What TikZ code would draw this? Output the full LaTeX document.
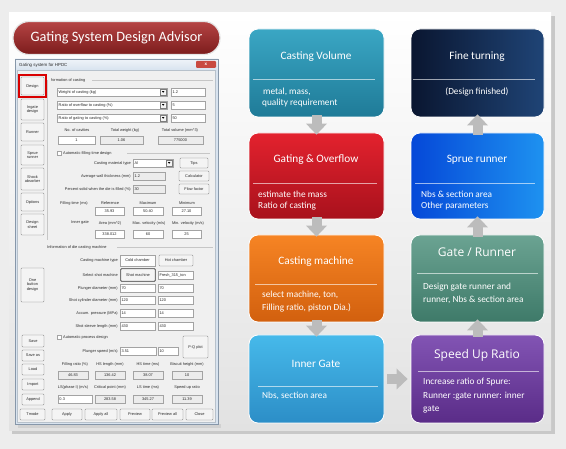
\documentclass[tikz,border=0pt]{standalone}
\usepackage{fontspec}
\setmainfont{Liberation Sans}
\newfontfamily\calf{Carlito}
\newfontfamily\segf{Open Sans}
\usetikzlibrary{arrows.meta}
\definecolor{outerbg}{HTML}{EDEDED}
\definecolor{panelbot}{HTML}{E2E2E2}
\definecolor{panelshadow}{HTML}{C8C8C8}
\definecolor{winframe}{HTML}{D8E3EF}
\definecolor{winborder}{HTML}{8797A9}
\definecolor{clientbg}{HTML}{F0F0F0}
\definecolor{btnfill}{HTML}{F4F4F4}
\definecolor{btnborder}{HTML}{7C7C7C}
\definecolor{tbborder}{HTML}{A3A3A3}
\definecolor{rofill}{HTML}{ECECEC}
\definecolor{etchc}{HTML}{C6C6C6}
\definecolor{dlgtext}{HTML}{2A2A2A}
\definecolor{closered}{HTML}{C94A40}
\definecolor{arrowgray}{HTML}{BCBCBC}
\definecolor{pilltop}{HTML}{B54444}
\definecolor{pillbot}{HTML}{7C1C1C}
\definecolor{cvtop}{HTML}{3AA6C4}\definecolor{cvbot}{HTML}{1F7B98}
\definecolor{ftleft}{HTML}{0A1630}\definecolor{ftright}{HTML}{1F4476}
\definecolor{gotop}{HTML}{E3222E}\definecolor{gobot}{HTML}{A8111C}
\definecolor{srleft}{HTML}{0548D8}\definecolor{srright}{HTML}{1E92F0}
\definecolor{cmtop}{HTML}{F68424}\definecolor{cmbot}{HTML}{D2600E}
\definecolor{grtop}{HTML}{6BA392}\definecolor{grbot}{HTML}{3E7A69}
\definecolor{igtop}{HTML}{46B9EA}\definecolor{igbot}{HTML}{2C8EC7}
\definecolor{sutop}{HTML}{8254B4}\definecolor{subot}{HTML}{5A2C88}
\newcommand\dlgf{\fontsize{3.9}{4.5}\selectfont}
\tikzset{
  dlg/.style={font=\dlgf, text=dlgtext, inner sep=0pt},
  btnbox/.style={fill=btnfill, draw=btnborder, line width=0.35pt, rounded corners=0.8pt},
  tbbox/.style={fill=white, draw=tbborder, line width=0.35pt},
  robox/.style={fill=rofill, draw=tbborder, line width=0.35pt},
  etch/.style={draw=etchc, line width=0.4pt},
  flow/.style={rounded corners=9pt, draw=white, line width=0.8pt, minimum width=135pt, minimum height=88pt, inner sep=0pt},
  ttl/.style={font=\calf\fontsize{11.3}{13}\selectfont, text=white, inner sep=0pt},
  ttlb/.style={font=\segf\fontsize{12}{14}\selectfont, text=white, inner sep=0pt},
  bdy/.style={font=\calf\fontsize{9.3}{11}\selectfont, text=white, inner sep=0pt, anchor=west},
  divl/.style={draw=white, draw opacity=0.6, line width=0.6pt},
  blk/.style={draw=arrowgray, line width=10pt, -{Triangle[width=21pt,length=11pt,line width=0pt]}},
}
\newcommand\btn[6]{%
  \draw[btnbox] (#2,#3) rectangle (#4,#5);
  \node[dlg, align=center] (#1) at ({(#2+#4)/2},{(#3+#5)/2}) {#6};}
\newcommand\tbx[6][tbbox]{%
  \draw[#1] (#3,#5-4) rectangle (#4,#5+4);
  \node[dlg, anchor=west] (#2) at (#3+1.3,#5) {#6};}
\newcommand\tbc[6][tbbox]{%
  \draw[#1] (#3,#5-4) rectangle (#4,#5+4);
  \node[dlg] (#2) at ({(#3+#4)/2},#5) {#6};}
\newcommand\combo[5]{%
  \draw[tbbox] (#2,#4-4) rectangle (#3,#4+4);
  \draw[btnbox, rounded corners=0pt] (#3-7,#4-3.3) rectangle (#3-0.7,#4+3.3);
  \fill[black] (#3-5,#4-0.8) -- (#3-2.7,#4-0.8) -- (#3-3.85,#4+0.8) -- cycle;
  \node[dlg, anchor=west] (#1) at (#2+1.5,#4) {#5};}
\newcommand\chk[4]{%
  \draw[tbbox] (#2,#3-2) rectangle (#2+4,#3+2);
  \node[dlg, anchor=west] (#1) at (#2+6,#3) {#4};}
\begin{document}
\begin{tikzpicture}[x=1pt,y=-1pt]
\useasboundingbox (0,0) rectangle (566,449);
\fill[outerbg] (0,0) rectangle (566,449);
\fill[panelshadow] (12,16) rectangle (555,434);
\shade[top color=white, bottom color=panelbot] (9,13) rectangle (551,431);

% title pill
\node[draw=white!80!gray, line width=1.2pt, top color=pilltop, bottom color=pillbot,
      rounded corners=16pt, minimum width=207pt, minimum height=33pt, inner sep=0pt,
      text=white, font=\calf\fontsize{14.3}{16}\selectfont] (title) at (116.5,38) {Gating System Design Advisor};

% dialog window
\fill[black!18] (18,424) rectangle (221,428);
\fill[winframe] (15,59) rectangle (218,424);
\shade[top color=white!60!winframe, bottom color=winframe] (15,59) rectangle (218,70);
\draw[winborder, line width=0.4pt] (15,59) rectangle (218,424);
\fill[clientbg] (17.5,70) rectangle (215.5,422);
\draw[winborder!60, line width=0.3pt] (17.5,70) rectangle (215.5,422);
\node[dlg, anchor=west, font=\fontsize{4.4}{5}\selectfont] (wtitle) at (19,65) {Gating system for HPDC};
\node[fill=closered, rounded corners=1pt, minimum width=20pt, minimum height=7pt, inner sep=0pt,
      text=white, font=\fontsize{4.5}{5}\selectfont\bfseries] (wclose) at (206,64.5) {x};

% group: information of casting
\node[dlg, anchor=west] (lInfo) at (51,80) {formation of casting};
\draw[etch] (92,80) -- (213,80);
\draw[etch] (47.5,80) -- (47.5,240);
\combo{cWeight}{57}{167}{92}{Weight of casting (kg)}
\tbx{vWeight}{171}{205}{92}{1.2}
\combo{cOver}{57}{167}{105}{Ratio of overflow to casting (\%)}
\tbx{vOver}{171}{205}{105}{5}
\combo{cGate}{57}{167}{118}{Ratio of gating to casting (\%)}
\tbx{vGate}{171}{205}{118}{50}
\node[dlg] (lCav) at (77,130) {No. of cavities};
\node[dlg] (lTw) at (125,130) {Total weight (kg)};
\node[dlg] (lTv) at (180,130) {Total volume (mm\textasciicircum 3)};
\tbc{vCav}{58}{95}{140}{1}
\tbc[robox]{vTw}{100}{143}{140}{1.06}
\tbc[robox]{vTv}{158}{203}{140}{775000}
\chk{kFill}{57}{153}{Automatic filling time design}
\draw[etch] (127,153) -- (210,153);
\node[dlg, anchor=east] (lMat) at (131,163) {Casting material type};
\combo{cMat}{133}{173}{163}{Al}
\btn{bTips}{180}{158}{208}{168}{Tips}
\node[dlg, anchor=east] (lWall) at (131,176) {Average wall thickness (mm)};
\tbx[robox]{vWall}{133}{165}{176}{1.2}
\btn{bCalc}{179}{171}{209}{181}{Calculator}
\node[dlg, anchor=east] (lPct) at (131,189) {Percent solid when the die is filled (\%)};
\tbx[robox]{vPct}{133}{165}{189}{30}
\btn{bFlow}{179}{184}{209}{194}{Flow factor}
\node[dlg] (lFill) at (74,203) {Filling time (ms)};
\node[dlg] (lRef) at (110,203) {Reference};
\node[dlg] (lMax) at (148,203) {Maximum};
\node[dlg] (lMin) at (187,203) {Minimum};
\tbc{vRef}{95}{124}{211}{35.93}
\tbc{vMax}{133}{163}{211}{50.40}
\tbc{vMin}{172}{201}{211}{27.10}
\node[dlg] (lIg) at (80,223) {Inner gate};
\node[dlg] (lArea) at (110,223) {Area (mm\textasciicircum 2)};
\node[dlg] (lMaxv) at (149,223) {Max. velocity (m/s)};
\node[dlg] (lMinv) at (188,223) {Min. velocity (m/s)};
\tbc{vArea}{95}{124}{234}{338.012}
\tbc{vMaxv}{133}{163}{234}{60}
\tbc{vMinv}{172}{201}{234}{25}

% group: die casting machine
\node[dlg, anchor=west] (lDie) at (47,247) {Information of die casting machine};
\draw[etch] (117,247) -- (213,247);
\node[dlg, anchor=east] (lCmt) at (118,260) {Casting machine type};
\draw[fill=white!70!btnfill, draw=tbborder, line width=0.35pt] (120,255) rectangle (155,266);
\node[dlg] (bCold) at (137.5,260.5) {Cold chamber};
\btn{bHot}{159}{255}{193}{266}{Hot chamber}
\node[dlg, anchor=east] (lSel) at (118,275) {Select shot machine};
\btn{bShot}{121}{269}{155}{281}{Shot machine}
\draw[black!75, line width=0.5pt, rounded corners=0.8pt] (120.6,268.6) rectangle (155.4,281.4);
\tbx{vShot}{158}{193}{275}{Fresh\_315\_ton}
\node[dlg, anchor=east] (lPlg) at (118,288) {Plunger diameter (mm)};
\tbx{vPlgA}{120}{155}{288}{70}
\tbx{vPlgB}{158}{193}{288}{70}
\node[dlg, anchor=east] (lScd) at (118,300) {Shot cylinder diameter (mm)};
\tbx{vScdA}{120}{155}{300}{120}
\tbx{vScdB}{158}{193}{300}{120}
\node[dlg, anchor=east] (lAcc) at (118,313) {Accum. pressure (MPa)};
\tbx{vAccA}{120}{155}{313}{14}
\tbx{vAccB}{158}{193}{313}{14}
\node[dlg, anchor=east] (lSsl) at (118,326) {Shot sleeve length (mm)};
\tbx{vSslA}{120}{155}{326}{430}
\tbx{vSslB}{158}{193}{326}{430}
\chk{kProc}{57}{337}{Automatic process design}
\node[dlg, anchor=east] (lPs) at (118,351) {Plunger speed (m/s)};
\tbx{vPsA}{120}{156}{351}{3.51}
\tbx{vPsB}{158}{178}{351}{10}
\btn{bPQ}{183}{336}{208}{358}{P-Q plot}
\node[dlg] (lFr) at (75,364) {Filling ratio (\%)};
\node[dlg] (lHsl) at (110,364) {HS length (mm)};
\node[dlg] (lHst) at (148,364) {HS time (ms)};
\node[dlg] (lBh) at (187,364) {Biscuit height (mm)};
\tbc[robox]{vFr}{58}{88}{375}{46.83}
\tbc[robox]{vHsl}{95}{125}{375}{136.42}
\tbc[robox]{vHst}{133}{163}{375}{38.07}
\tbc[robox]{vBh}{172}{202}{375}{10}
\node[dlg] (lLs) at (73,387) {LS(phase I) (m/s)};
\node[dlg] (lCp) at (110,387) {Critical point (mm)};
\node[dlg] (lLst) at (148,387) {LS time (ms)};
\node[dlg] (lSur) at (187,387) {Speed up ratio};
\tbx{vLs}{58}{92}{399}{0.3}
\tbc[robox]{vCp}{95}{125}{399}{283.58}
\tbc[robox]{vLst}{133}{163}{399}{345.27}
\tbc[robox]{vSur}{172}{202}{399}{11.39}

% left column buttons
\btn{bDesign}{21}{77}{44}{95}{Design}
\draw[red!85!black, line width=1.3pt] (19,75) rectangle (46,97);
\btn{bIngate}{21}{99}{44}{120}{Ingate\\design}
\btn{bRunner}{21}{123}{44}{141}{Runner}
\btn{bSprue}{21}{145}{44}{165}{Sprue\\runner}
\btn{bShock}{21}{168}{44}{190}{Shock\\absorber}
\btn{bOptions}{21}{193}{44}{211}{Options}
\btn{bSheet}{21}{214}{44}{235}{Design\\sheet}
\btn{bOne}{21}{268}{44}{302}{One\\button\\design}
\btn{bSave}{22}{335}{44}{347}{Save}
\btn{bSaveas}{22}{350}{44}{361}{Save as}
\btn{bLoad}{22}{364}{44}{375}{Load}
\btn{bImport}{22}{379}{44}{390}{Import}
\btn{bAppend}{22}{394}{44}{405}{Append}
\btn{bTmode}{20}{409}{45}{420}{Tmode}
\btn{bApply}{52}{409}{82}{420}{Apply}
\btn{bApplyall}{85}{409}{117}{420}{Apply all}
\btn{bPreview}{120}{409}{150}{420}{Preview}
\btn{bPreviewall}{152}{409}{183}{420}{Preview all}
\btn{bClose}{186}{409}{213}{420}{Close}

% flow boxes
\node[flow, top color=cvtop, bottom color=cvbot] (cv) at (316.5,73) {};
\node[flow, minimum height=86pt, top color=gotop, bottom color=gobot] (go) at (316.5,176) {};
\node[flow, minimum height=87pt, top color=cmtop, bottom color=cmbot] (cm) at (316.5,278.5) {};
\node[flow, top color=igtop, bottom color=igbot] (ig) at (316.5,379) {};
\node[flow, minimum width=133pt, left color=ftleft, right color=ftright] (ft) at (477.5,73) {};
\node[flow, minimum width=133pt, minimum height=86pt, left color=srleft, right color=srright] (sr) at (477.5,176) {};
\node[flow, minimum width=133pt, minimum height=87pt, top color=grtop, bottom color=grbot] (gr) at (477.5,278.5) {};
\node[flow, minimum width=133pt, top color=sutop, bottom color=subot] (su) at (477.5,379) {};

\node[ttl] (cvTitle) at (316,57) {Casting Volume};
\draw[divl] (253,79) -- (375,79);
\node[bdy] (cvA) at (263,92) {metal, mass,};
\node[bdy] (cvB) at (262,103.5) {quality requirement};

\node[ttl] (goTitle) at (316,160) {Gating \& Overflow};
\draw[divl] (253,183) -- (377,183);
\node[bdy] (goA) at (258,194) {estimate the mass};
\node[bdy] (goB) at (258,206) {Ratio of casting};

\node[ttl] (cmTitle) at (316,262) {Casting machine};
\draw[divl] (255,284) -- (377,284);
\node[bdy] (cmA) at (262,295) {select machine,  ton,};
\node[bdy] (cmB) at (262,308) {Filling ratio, piston Dia.)};

\node[ttl] (igTitle) at (316,364) {Inner Gate};
\draw[divl] (258,386) -- (378,386);
\node[bdy] (igA) at (262,396) {Nbs, section area};

\node[ttl] (ftTitle) at (477,57) {Fine turning};
\draw[divl] (413,79) -- (535,79);
\node[bdy, anchor=center] (ftA) at (477,92) {(Design finished)};

\node[ttl] (srTitle) at (477,160) {Sprue runner};
\draw[divl] (415,183) -- (535,183);
\node[bdy] (srA) at (421,194) {Nbs \& section area};
\node[bdy] (srB) at (421,206) {Other parameters};

\node[ttlb] (grTitle) at (477,252) {Gate / Runner};
\draw[divl] (417,273) -- (538,273);
\node[bdy] (grA) at (423,287) {Design gate runner and};
\node[bdy] (grB) at (423,300) {runner, Nbs \& section area};

\node[ttlb] (suTitle) at (477,355) {Speed Up Ratio};
\draw[divl] (418,371) -- (539,371);
\node[bdy] (suA) at (423,382) {Increase ratio of Spure:};
\node[bdy] (suB) at (423,396) {Runner :gate runner: inner};
\node[bdy] (suC) at (423,409) {gate};

% block arrows
\draw[blk] ([yshift=2pt]cv.south) -- ([yshift=-2pt]go.north);
\draw[blk] ([yshift=2pt]go.south) -- ([yshift=-2pt]cm.north);
\draw[blk] ([yshift=2pt]cm.south) -- ([yshift=-2pt]ig.north);
\draw[blk] ([xshift=3pt]ig.east) -- ([xshift=-3pt]su.west);
\draw[blk] ([yshift=-2pt]su.north) -- ([yshift=3pt]gr.south);
\draw[blk] ([yshift=-2pt]gr.north) -- ([yshift=3pt]sr.south);
\draw[blk] ([yshift=-2pt]sr.north) -- ([yshift=3pt]ft.south);
\end{tikzpicture}
\end{document}
